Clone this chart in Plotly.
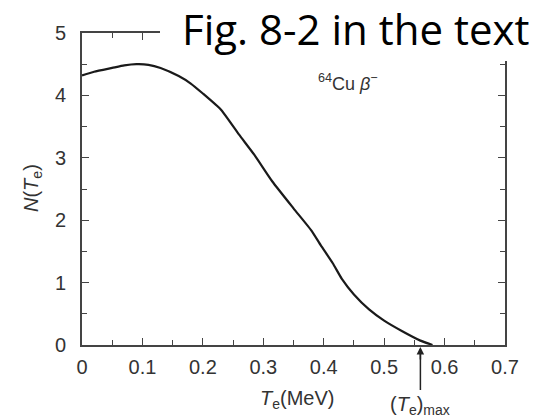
import plotly.graph_objects as go

# Data (64Cu beta- spectrum)
T_e = [0, 0.02, 0.05, 0.07, 0.09, 0.11, 0.13, 0.16, 0.18, 0.20, 0.23, 0.26, 0.285,
       0.315, 0.35, 0.38, 0.395, 0.415, 0.43, 0.45, 0.475, 0.50, 0.53, 0.56, 0.58]
N_Te = [4.32, 4.38, 4.44, 4.48, 4.50, 4.49, 4.44, 4.31, 4.19, 4.03, 3.77, 3.37, 3.05,
        2.62, 2.19, 1.83, 1.60, 1.31, 1.06, 0.81, 0.57, 0.39, 0.22, 0.07, 0.0]
T_max = 0.56
x_range = [0, 0.7]
x_ticks = [0, 0.1, 0.2, 0.3, 0.4, 0.5, 0.6, 0.7]
x_labels = ["0", "0.1", "0.2", "0.3", "0.4", "0.5", "0.6", "0.7"]
y_ticks = [0, 1, 2, 3, 4, 5]

W, H = 550, 419
L, R, T, B = 82, 45, 33, 74
pw, ph = W - L - R, H - T - B

def px_x(p):
    return (p - L) / pw

def px_y(p):
    return (H - B - p) / ph

tmax_paper = (T_max - x_range[0]) / (x_range[1] - x_range[0])

fig = go.Figure()
fig.add_trace(go.Scatter(x=T_e, y=N_Te, mode="lines",
                         line=dict(color="#1a1a1a", width=2.2, shape="spline", smoothing=0.5),
                         hoverinfo="skip", showlegend=False))

tickfont = dict(family="Liberation Sans, Arial, sans-serif", size=20, color="#333")
axis_common = dict(showline=True, linecolor="#444", linewidth=1.6, mirror="ticks",
                   ticks="inside", ticklen=7, tickwidth=1.3, tickcolor="#444",
                   showgrid=False, zeroline=False, tickfont=tickfont)

fig.update_xaxes(range=x_range, tickvals=x_ticks, ticktext=x_labels, ticklabelstandoff=3,
                 minor=dict(dtick=0.05, ticks="inside", ticklen=5, tickwidth=1.2, tickcolor="#444"),
                 **axis_common)
fig.update_yaxes(range=[0, 5], tickvals=y_ticks, ticklabelstandoff=10,
                 minor=dict(dtick=0.5, ticks="inside", ticklen=5, tickwidth=1.2, tickcolor="#444"),
                 **axis_common)

lab_font = dict(family="Liberation Sans, Arial, sans-serif", size=20, color="#333")

annotations = [
    dict(text="<i>N</i>(<i>T</i><sub>e</sub>)", xref="paper", yref="paper",
         x=px_x(32), y=px_y(188), xanchor="center", yanchor="middle",
         textangle=-90, showarrow=False, font=lab_font),
    dict(text="<i>T</i><sub>e</sub>(MeV)", xref="paper", yref="paper",
         x=px_x(297), y=px_y(399), xanchor="center", yanchor="middle",
         showarrow=False, font=lab_font),
    dict(text="(<i>T</i><sub>e</sub>)<sub>max</sub>", x=tmax_paper, y=px_y(405),
         xref="paper", yref="paper", xanchor="center", yanchor="middle",
         showarrow=False, font=lab_font),
    dict(text="", x=tmax_paper, y=px_y(347), xref="paper", yref="paper",
         ax=0, ay=14, showarrow=True,
         arrowhead=2, arrowsize=1, arrowwidth=1.5, arrowcolor="#222", standoff=0, startstandoff=0),
    dict(text="<sup>64</sup>Cu <i>β</i><sup>−</sup>", x=0.44, y=4.2, xref="x", yref="y",
         xanchor="center", yanchor="middle", showarrow=False,
         font=dict(family="Liberation Sans, Arial, sans-serif", size=18, color="#333")),
    dict(text="Fig. 8-2 in the text", xref="paper", yref="paper",
         x=px_x(180), y=px_y(28), xanchor="left", yanchor="middle", showarrow=False,
         font=dict(family="Open Sans, sans-serif", size=42, color="#000")),
]

fig.update_layout(
    width=W, height=H, margin=dict(l=L, r=R, t=T, b=B),
    paper_bgcolor="white", plot_bgcolor="white",
    annotations=annotations,
    shapes=[
        dict(type="rect", xref="paper", yref="paper", x0=px_x(160), x1=px_x(550),
             y0=px_y(61), y1=px_y(0), fillcolor="white", line=dict(width=0), layer="above"),
        dict(type="line", xref="paper", yref="paper", x0=tmax_paper, x1=tmax_paper,
             y0=px_y(352), y1=px_y(390), line=dict(color="#222", width=1.5), layer="above"),
    ],
)

fig.write_html("out.html")
